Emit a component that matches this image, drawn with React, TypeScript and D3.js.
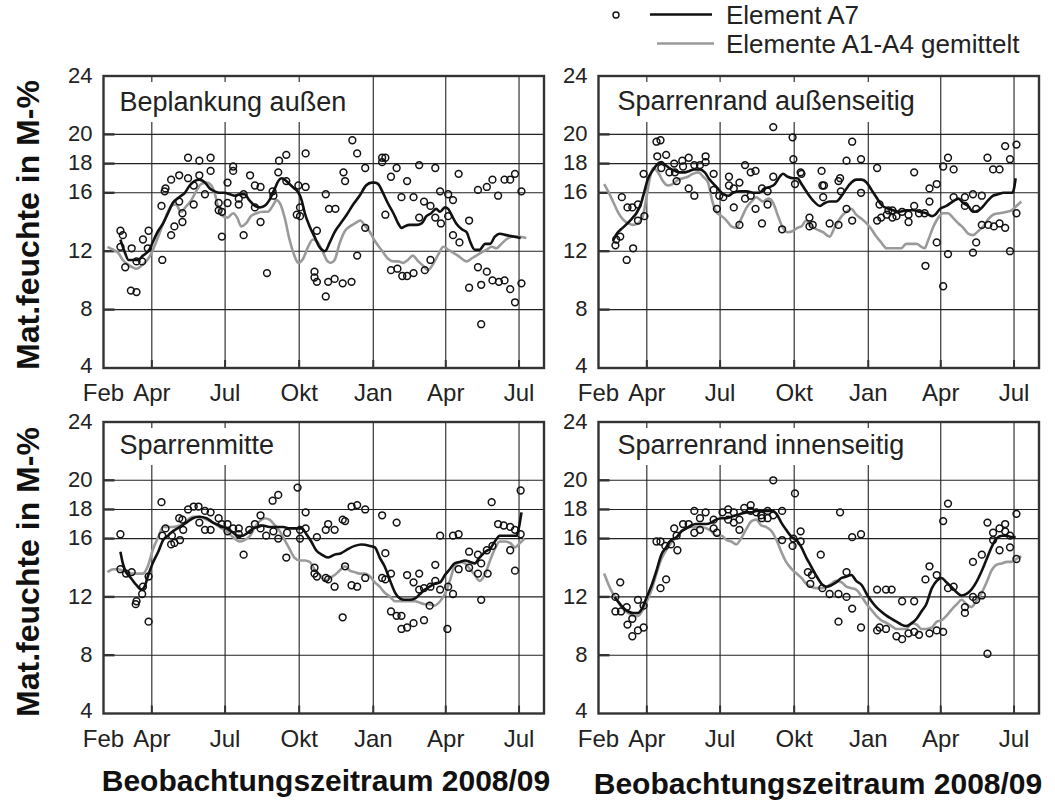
import React from "react";
import * as d3 from "d3";

type Pt = [number, number]; // [days since 2008-02-01, moisture M-%]

// ---------- Beplankung außen ----------
const beplankungPoints: Pt[] = [[21,13.4],[24,13.1],[21,12.3],[27,10.9],[35,12.2],[34,9.3],[41,9.2],[41,11.3],[48,11.3],[49,12.8],[56,13.4],[55,12.2],[72,15.1],[73,11.4],[76,16.1],[77,16.3],[84,13.1],[84,16.9],[88,13.7],[94,17.2],[94,15.4],[98,14.0],[98,14.6],[105,17.0],[105,18.4],[112,15.2],[112,16.5],[119,17.2],[119,18.2],[126,15.9],[133,18.4],[133,17.5],[143,15.3],[143,14.8],[147,14.7],[147,13.0],[154,16.7],[154,15.3],[161,17.8],[161,17.5],[168,15.6],[168,15.2],[174,13.1],[174,15.9],[182,17.2],[188,16.5],[195,16.4],[195,14.0],[188,15.0],[203,10.5],[210,16.1],[211,15.8],[217,17.4],[218,18.2],[227,18.6],[227,16.8],[242,16.5],[240,14.5],[244,14.4],[244,15.0],[251,18.7],[251,16.4],[265,13.4],[262,10.6],[262,10.2],[265,9.9],[276,15.9],[280,14.9],[288,14.9],[276,8.9],[279,9.9],[287,10.1],[297,9.8],[308,9.9],[298,17.4],[300,16.8],[309,19.6],[315,18.7],[315,11.7],[325,17.7],[325,13.6],[346,18.4],[346,18.1],[350,18.4],[350,14.5],[357,17.1],[364,17.7],[357,10.7],[365,10.8],[370,15.7],[371,10.3],[377,10.3],[385,10.5],[377,16.8],[385,15.7],[392,17.9],[392,14.3],[398,15.4],[399,10.7],[406,11.4],[406,15.1],[412,17.7],[412,14.3],[418,16.1],[419,13.9],[428,15.9],[428,14.4],[434,15.5],[434,13.1],[442,12.6],[441,17.3],[454,14.1],[454,9.5],[465,10.9],[465,16.2],[469,9.7],[469,7.0],[476,10.6],[476,16.4],[483,16.9],[483,10.0],[490,15.8],[491,9.9],[498,16.9],[498,10.0],[505,16.9],[505,9.4],[511,17.3],[511,8.5],[519,16.1],[519,9.8]];
const beplankungA7: Pt[] = [[21,12.8],[26,12.0],[31,11.4],[36,11.4],[43,11.4],[49,11.7],[57,12.1],[61,12.6],[68,13.4],[74,13.9],[80,14.6],[86,15.3],[94,15.7],[101,16.0],[107,16.5],[113,16.8],[119,16.9],[126,16.7],[132,16.3],[138,16.1],[144,16.0],[150,16.0],[157,15.9],[163,15.8],[169,15.9],[175,15.9],[181,15.5],[188,15.1],[194,15.0],[200,15.1],[206,15.5],[212,16.2],[217,16.8],[221,17.0],[225,16.9],[231,16.6],[237,16.3],[241,16.1],[246,15.5],[250,14.6],[256,13.7],[262,13.0],[268,12.3],[275,12.0],[281,12.6],[287,13.3],[293,13.8],[302,14.5],[310,15.2],[318,15.8],[326,16.5],[333,16.7],[337,16.7],[341,16.6],[347,16.0],[353,15.3],[360,14.6],[366,13.9],[370,13.6],[374,13.7],[380,13.8],[389,13.8],[395,13.9],[401,14.4],[407,14.6],[413,14.9],[418,14.7],[424,15.0],[428,14.9],[432,14.5],[438,13.9],[445,13.5],[451,13.3],[455,12.7],[461,12.1],[467,12.1],[474,12.5],[480,12.5],[486,13.0],[492,13.2],[500,13.1],[509,13.0],[518,12.9]];
const beplankungA1A4: Pt[] = [[5,12.3],[12,12.1],[18,11.9],[24,11.4],[30,11.1],[36,10.9],[41,10.8],[47,11.0],[53,11.3],[59,11.8],[63,12.3],[68,13.0],[74,13.9],[80,14.7],[84,15.1],[90,15.2],[96,14.7],[103,15.1],[109,15.5],[115,16.1],[121,16.6],[128,16.7],[134,16.5],[138,16.0],[142,15.1],[148,14.4],[154,14.3],[161,14.6],[166,14.3],[171,13.7],[177,13.9],[183,14.4],[190,14.6],[198,14.7],[204,14.7],[210,15.1],[215,15.5],[219,15.3],[225,14.3],[231,12.8],[237,11.7],[242,11.2],[248,11.5],[254,12.3],[260,12.8],[266,12.6],[272,12.0],[277,11.4],[282,11.2],[287,11.4],[293,12.5],[300,13.4],[306,13.7],[312,13.9],[319,14.1],[324,13.8],[331,13.3],[337,12.7],[345,12.1],[353,11.5],[360,11.3],[366,11.3],[372,11.2],[378,11.4],[384,11.7],[391,11.3],[397,11.0],[403,10.7],[409,11.1],[416,11.8],[422,12.3],[428,12.1],[434,11.9],[440,11.7],[447,11.4],[451,11.3],[457,11.5],[463,11.7],[469,11.9],[476,12.1],[482,12.3],[488,12.2],[494,12.5],[500,12.8],[507,13.0],[515,13.0],[525,12.9]];

// ---------- Sparrenrand außenseitig ----------
const aussenPoints: Pt[] = [[21,12.4],[22,12.8],[27,13.0],[29,15.7],[35,11.4],[36,15.0],[42,15.0],[43,12.2],[49,15.2],[49,14.1],[56,17.3],[57,14.4],[72,19.5],[77,19.6],[73,18.5],[78,17.7],[84,18.6],[88,17.4],[94,18.0],[95,17.4],[97,16.8],[105,17.8],[104,18.2],[112,18.4],[112,16.3],[119,15.8],[119,17.9],[126,17.9],[133,18.5],[133,18.1],[143,17.3],[143,16.2],[147,14.9],[150,15.8],[155,15.7],[162,17.1],[162,16.5],[168,16.3],[168,15.0],[175,16.7],[175,13.8],[182,17.9],[182,15.6],[189,17.4],[189,15.8],[195,17.5],[195,14.9],[203,16.3],[203,13.9],[210,16.1],[210,15.2],[217,20.5],[217,17.1],[228,13.5],[241,19.8],[242,18.3],[244,16.6],[251,17.4],[252,17.3],[262,14.3],[262,13.7],[266,13.8],[277,17.5],[278,16.5],[280,16.5],[279,15.7],[287,13.9],[298,13.8],[298,16.8],[300,17.0],[301,16.1],[308,18.2],[308,14.9],[315,19.5],[315,14.1],[326,18.3],[326,16.0],[346,17.7],[346,14.1],[349,15.2],[351,14.3],[358,14.5],[360,14.8],[365,14.3],[365,14.8],[370,14.4],[377,14.7],[385,14.0],[385,14.5],[392,17.4],[392,15.1],[398,14.6],[405,14.6],[406,11.0],[411,16.3],[411,15.4],[420,16.6],[420,12.6],[428,17.8],[428,9.6],[434,18.4],[434,11.8],[441,17.6],[441,15.7],[455,15.7],[455,15.1],[465,15.9],[465,11.9],[469,14.9],[469,12.6],[476,15.8],[476,13.8],[483,18.4],[484,13.8],[490,17.6],[491,13.7],[498,17.6],[498,13.9],[505,19.2],[505,13.6],[511,18.3],[511,12.0],[519,19.3],[519,14.6]];
const aussenA7: Pt[] = [[18,12.7],[24,13.3],[28,13.5],[34,13.8],[41,14.2],[47,14.6],[53,15.3],[57,16.1],[61,16.9],[67,17.5],[72,17.9],[78,18.1],[83,17.9],[88,17.7],[95,17.5],[101,17.4],[107,17.4],[113,17.5],[119,17.6],[126,17.6],[132,17.4],[138,16.9],[143,16.6],[148,16.3],[155,15.9],[161,15.8],[167,16.0],[175,16.1],[184,16.1],[192,16.0],[200,16.0],[206,16.3],[213,16.4],[219,16.6],[225,17.1],[229,17.3],[235,17.1],[242,17.0],[247,17.0],[252,16.6],[258,16.1],[266,15.5],[275,15.1],[281,15.3],[287,15.4],[295,15.4],[302,15.8],[308,16.3],[314,16.7],[320,16.9],[327,16.9],[333,16.7],[339,16.2],[345,15.7],[351,15.2],[360,14.9],[366,14.8],[374,14.7],[382,14.8],[391,14.8],[399,14.7],[407,14.6],[414,14.4],[418,14.5],[424,14.9],[432,15.1],[440,15.4],[447,15.6],[453,15.3],[459,15.1],[465,14.7],[472,14.8],[478,15.1],[484,15.5],[490,15.8],[496,15.9],[503,16.0],[509,16.0],[514,16.0],[516,16.3],[518,17.0]];
const aussenA1A4: Pt[] = [[7,16.6],[12,16.1],[18,15.4],[24,14.7],[30,14.2],[37,13.9],[43,13.8],[49,13.9],[55,14.4],[59,15.5],[63,16.8],[68,17.7],[74,17.4],[80,16.8],[86,16.5],[92,16.6],[99,16.9],[105,17.0],[111,17.1],[117,17.3],[124,17.4],[130,17.1],[136,16.7],[141,15.5],[146,14.7],[153,14.4],[159,14.1],[165,13.7],[171,13.6],[177,14.2],[184,15.0],[190,15.4],[196,15.7],[204,15.4],[211,15.6],[217,15.3],[223,14.4],[229,13.6],[235,13.3],[242,13.4],[247,13.6],[252,13.7],[258,14.1],[264,13.7],[271,13.5],[279,13.3],[287,13.0],[293,13.6],[302,14.4],[308,14.7],[314,14.9],[320,14.5],[327,14.2],[333,13.9],[339,13.5],[345,13.0],[351,12.6],[358,12.2],[364,12.2],[370,12.2],[376,12.2],[382,12.5],[389,12.5],[395,12.5],[401,12.3],[405,12.2],[409,12.7],[416,13.7],[422,14.3],[428,14.6],[434,14.6],[440,14.3],[447,13.9],[453,13.6],[459,13.2],[465,13.1],[472,13.4],[478,13.7],[484,14.2],[490,14.5],[498,14.6],[507,14.7],[513,14.8],[519,15.1],[525,15.4]];

// ---------- Sparrenmitte ----------
const mittePoints: Pt[] = [[21,16.3],[21,13.9],[28,13.6],[35,13.7],[41,11.7],[40,11.5],[48,12.2],[49,12.7],[56,13.4],[56,10.3],[72,18.5],[73,16.2],[77,16.7],[84,15.6],[85,16.2],[88,15.7],[94,17.4],[95,15.9],[98,17.3],[99,16.6],[105,18.0],[112,18.2],[118,18.2],[119,17.1],[126,17.9],[126,16.6],[133,17.8],[133,16.6],[143,17.4],[147,17.0],[154,17.0],[154,16.5],[161,16.7],[168,16.7],[168,16.3],[174,14.9],[181,16.6],[188,17.0],[195,17.6],[195,16.7],[202,16.2],[210,18.6],[211,16.5],[217,19.0],[217,16.0],[227,14.7],[228,16.4],[241,19.5],[244,16.0],[244,16.6],[251,17.8],[251,16.7],[265,16.1],[262,14.0],[262,13.6],[265,13.4],[276,13.3],[279,13.2],[279,17.0],[276,16.6],[287,16.6],[287,12.7],[297,17.3],[300,17.2],[300,14.1],[297,10.6],[308,18.2],[315,18.3],[308,12.8],[315,12.7],[325,18.0],[325,13.3],[346,17.6],[346,13.3],[350,13.2],[350,15.0],[357,13.6],[364,17.1],[357,11.0],[364,10.7],[370,10.7],[370,9.8],[377,9.9],[385,10.2],[377,13.5],[385,13.0],[392,13.6],[392,12.5],[398,12.6],[398,10.4],[405,11.4],[406,12.7],[412,14.2],[412,13.1],[418,16.2],[418,12.5],[428,12.7],[427,9.8],[434,16.2],[434,12.2],[441,16.3],[441,13.9],[454,15.1],[454,14.0],[465,14.9],[465,13.6],[469,14.3],[469,11.8],[476,15.2],[477,13.6],[482,18.5],[483,15.5],[490,17.0],[497,16.9],[505,16.8],[505,15.2],[511,16.6],[511,13.8],[518,19.3],[518,16.3]];
const mitteA7: Pt[] = [[21,15.1],[24,14.3],[28,13.7],[34,13.3],[41,12.8],[47,12.5],[51,12.7],[55,13.4],[61,14.3],[68,15.1],[74,15.9],[80,16.2],[86,16.5],[95,16.8],[103,17.1],[111,17.4],[119,17.5],[128,17.4],[136,17.1],[144,16.9],[153,16.7],[161,16.4],[167,16.2],[173,16.2],[179,16.4],[186,16.7],[192,16.8],[198,16.9],[206,16.8],[215,16.8],[223,16.8],[231,16.7],[240,16.7],[246,16.7],[252,16.3],[258,15.8],[264,15.2],[271,14.9],[279,14.7],[287,14.9],[295,15.0],[304,15.3],[312,15.5],[320,15.6],[331,15.5],[337,15.4],[343,14.7],[349,14.1],[356,13.1],[362,12.3],[368,11.9],[374,11.8],[380,11.8],[387,11.9],[393,12.2],[399,12.5],[405,12.7],[411,12.9],[418,13.0],[424,13.5],[430,13.9],[436,14.3],[443,14.4],[449,14.5],[455,14.4],[461,14.3],[467,14.7],[474,15.1],[480,15.3],[486,15.8],[492,16.2],[498,16.2],[505,16.2],[513,16.2],[516,16.8],[519,17.8]];
const mitteA1A4: Pt[] = [[5,13.7],[12,13.9],[18,13.9],[24,13.8],[30,13.7],[37,13.6],[43,13.6],[49,13.6],[55,14.1],[61,15.2],[68,16.1],[74,16.8],[80,16.8],[86,16.8],[95,16.9],[103,17.2],[111,17.5],[119,17.5],[128,17.3],[136,17.1],[144,16.8],[153,16.5],[161,16.1],[169,15.8],[175,15.9],[182,16.2],[188,16.8],[194,17.2],[200,17.4],[206,17.3],[213,16.9],[219,16.5],[225,15.9],[231,15.3],[237,14.7],[244,14.5],[250,14.5],[256,14.4],[262,13.9],[269,13.5],[275,13.1],[281,13.3],[287,13.5],[293,13.8],[300,14.1],[306,13.8],[312,13.7],[318,13.6],[324,13.6],[331,13.4],[337,13.0],[343,12.7],[349,12.3],[356,12.0],[362,11.7],[368,11.7],[374,11.7],[380,11.7],[387,11.7],[393,11.6],[399,11.5],[405,11.5],[411,11.4],[418,11.7],[424,12.2],[430,13.1],[436,14.1],[443,14.4],[449,14.3],[455,13.9],[461,13.5],[467,13.1],[474,13.6],[480,14.5],[486,15.3],[492,15.8],[498,15.8],[505,15.7],[511,15.4],[517,15.7],[523,16.0]];

// ---------- Sparrenrand innenseitig ----------
const innenPoints: Pt[] = [[21,12.0],[21,11.0],[27,13.0],[28,11.0],[35,11.3],[36,10.1],[42,10.5],[42,9.3],[49,9.7],[49,11.8],[56,9.9],[56,11.4],[72,15.8],[77,15.8],[77,12.6],[83,15.5],[84,13.2],[90,15.6],[94,16.7],[97,16.2],[98,15.2],[105,17.0],[112,17.0],[119,17.9],[119,16.4],[126,17.4],[126,16.6],[133,17.8],[143,17.3],[143,16.7],[147,16.4],[154,17.8],[161,18.0],[161,17.3],[168,17.8],[168,17.1],[175,16.6],[175,17.3],[181,18.1],[189,18.3],[189,17.9],[196,17.8],[202,17.6],[203,17.4],[210,17.9],[210,17.4],[217,20.0],[217,17.6],[228,17.9],[228,15.9],[241,15.5],[242,16.0],[244,19.1],[251,16.5],[251,15.8],[260,13.7],[263,12.9],[265,13.5],[276,14.9],[278,12.6],[287,12.2],[298,12.2],[298,10.3],[300,17.8],[308,12.0],[308,13.7],[315,11.2],[315,16.1],[326,9.9],[326,16.3],[346,12.5],[346,9.7],[349,9.9],[357,12.5],[357,9.8],[364,12.5],[370,9.3],[377,11.7],[377,9.1],[385,9.5],[392,11.7],[392,9.6],[398,9.4],[406,13.2],[411,14.1],[411,9.5],[420,13.5],[420,9.7],[428,17.2],[428,9.6],[434,12.6],[434,18.4],[441,12.7],[455,11.3],[455,10.9],[465,14.4],[465,12.0],[469,11.8],[476,14.9],[476,12.1],[483,17.1],[483,8.1],[490,16.4],[490,15.9],[498,16.7],[498,15.2],[505,17.0],[505,16.5],[511,16.2],[511,15.4],[519,17.7],[519,14.6]];
const innenA7: Pt[] = [[20,12.0],[24,11.7],[30,11.3],[37,11.0],[43,10.9],[49,10.9],[55,11.3],[60,12.0],[66,12.8],[72,13.8],[78,14.9],[84,15.4],[90,15.9],[97,16.1],[103,16.5],[109,16.7],[115,16.9],[121,17.0],[128,17.0],[134,17.0],[140,17.1],[146,17.3],[153,17.4],[159,17.4],[165,17.5],[171,17.6],[177,17.7],[184,17.8],[190,17.8],[196,17.9],[202,17.9],[208,17.9],[215,17.9],[221,17.7],[227,17.1],[233,16.6],[240,16.1],[246,15.9],[252,15.4],[258,14.7],[264,14.1],[271,13.4],[277,12.9],[283,12.7],[289,12.8],[295,13.0],[302,13.3],[308,13.4],[314,13.5],[320,13.1],[327,12.8],[333,12.2],[339,11.7],[345,11.3],[351,11.0],[358,10.7],[364,10.5],[370,10.3],[376,10.1],[382,10.0],[389,10.2],[395,10.5],[401,11.0],[407,11.5],[414,12.6],[420,13.1],[426,13.3],[432,13.0],[438,12.7],[445,12.3],[451,12.1],[457,12.2],[463,12.5],[469,13.0],[476,13.8],[482,14.6],[488,15.4],[494,16.0],[501,16.2],[507,16.2],[513,16.1],[518,16.1]];
const innenA1A4: Pt[] = [[7,13.6],[12,12.9],[18,12.2],[24,11.7],[30,11.2],[37,10.9],[43,10.7],[49,10.7],[55,11.1],[60,11.7],[66,12.5],[72,13.6],[78,14.6],[84,15.2],[90,15.7],[97,16.1],[103,16.5],[109,16.7],[115,16.8],[121,16.8],[128,16.8],[134,16.7],[140,16.5],[146,16.2],[153,16.2],[159,15.9],[165,15.8],[171,15.6],[177,16.0],[184,16.7],[190,17.2],[196,17.3],[202,16.9],[208,16.8],[215,16.5],[221,15.9],[227,15.1],[233,14.4],[240,13.9],[246,13.6],[252,13.3],[258,12.9],[264,12.7],[271,12.6],[277,12.6],[283,12.7],[289,12.9],[295,13.1],[302,13.0],[308,12.7],[314,12.6],[320,12.5],[327,12.0],[333,11.5],[339,11.1],[345,10.7],[351,10.4],[358,10.2],[364,10.0],[370,9.8],[376,9.8],[382,9.8],[389,10.2],[395,10.1],[401,9.8],[407,9.8],[414,9.9],[420,10.3],[426,10.4],[432,10.7],[438,11.1],[445,11.5],[451,11.8],[457,11.5],[463,11.3],[469,11.7],[476,12.3],[482,13.0],[488,13.8],[494,14.2],[501,14.3],[507,14.4],[513,14.4],[519,14.6],[525,14.8]];

// ---------- axes ----------
const yTickValues = [4, 8, 12, 16, 18, 20, 24];
const yGridValues = [8, 12, 16, 18, 20];
const monthTickDates = ["2008-02-01", "2008-04-01", "2008-07-01", "2008-10-01", "2009-01-01", "2009-04-01", "2009-07-01"];
const monthLabels = ["Feb", "Apr", "Jul", "Okt", "Jan", "Apr", "Jul"];
const panelTitles = ["Beplankung außen", "Sparrenrand außenseitig", "Sparrenmitte", "Sparrenrand innenseitig"];
const legendLabels = ["Element A7", "Elemente A1-A4 gemittelt"];
const yAxisTitle = "Mat.feuchte in M-%";
const xAxisTitle = "Beobachtungszeitraum 2008/09";

const FONT = "'Liberation Sans', Arial, Helvetica, sans-serif";
const parse = d3.timeParse("%Y-%m-%d");
const START = parse("2008-02-01") as Date;
const END = parse("2009-08-01") as Date;
const toDate = (d: number) => d3.timeDay.offset(START, d);
const monthDates = monthTickDates.map((s) => parse(s) as Date);

const BLACK = "#111";
const GRAY = "#9a9a9a";
const FRAME = "#333";

let measureCtx: CanvasRenderingContext2D | null = null;
function textWidth(s: string, font: string): number {
  if (!measureCtx) {
    const c = document.createElement("canvas");
    measureCtx = c.getContext("2d");
  }
  if (!measureCtx) return s.length * 13;
  measureCtx.font = font;
  return measureCtx.measureText(s).width;
}

interface PanelProps {
  x0: number; y0: number; w: number; h: number;
  title: string; pts: Pt[]; a7: Pt[]; avg: Pt[];
  titleDx: number; titleDy: number; boxH: number;
}

function Panel({ x0, y0, w, h, title, pts, a7, avg, titleDx, titleDy, boxH }: PanelProps) {
  const x = d3.scaleTime().domain([START, END]).range([x0, x0 + w]);
  const y = d3.scaleLinear().domain([4, 24]).range([y0 + h, y0]);
  const line = d3
    .line<Pt>()
    .x((d) => x(toDate(d[0])))
    .y((d) => y(d[1]))
    .curve(d3.curveMonotoneX);
  const titleFont = `27px ${FONT}`;
  const tw = textWidth(title, titleFont);
  return (
    <g>
      {yGridValues.map((v) => (
        <line key={"h" + v} x1={x0} x2={x0 + w} y1={y(v)} y2={y(v)} stroke="#222" strokeWidth={1.1} />
      ))}
      {monthDates.slice(1).map((d, i) => (
        <line key={"v" + i} x1={x(d)} x2={x(d)} y1={y0} y2={y0 + h} stroke="#222" strokeWidth={1.1} />
      ))}
      {yGridValues.map((v) => (
        <line key={"t" + v} x1={x0} x2={x0 + 11} y1={y(v)} y2={y(v)} stroke={FRAME} strokeWidth={2.4} />
      ))}
      {monthDates.slice(1).map((d, i) => (
        <line key={"bt" + i} x1={x(d)} x2={x(d)} y1={y0 + h - 8} y2={y0 + h} stroke={FRAME} strokeWidth={2} />
      ))}
      <rect x={x0 + 1.5} y={y0 + 6} width={titleDx + tw + 6} height={boxH} fill="#fff" />
      <text x={x0 + titleDx} y={y0 + titleDy} fontFamily={FONT} fontSize={27} fill="#222">
        {title}
      </text>
      <path d={line(avg) || ""} fill="none" stroke={GRAY} strokeWidth={2.6} strokeLinejoin="round" />
      <path d={line(a7) || ""} fill="none" stroke={BLACK} strokeWidth={2.6} strokeLinejoin="round" />
      {pts.map((p, i) => (
        <circle key={"c" + i} cx={x(toDate(p[0]))} cy={y(p[1])} r={3.4} fill="none" stroke="#111" strokeWidth={1.5} />
      ))}
      <rect x={x0} y={y0} width={w} height={h} fill="none" stroke={FRAME} strokeWidth={2.4} />
      {yTickValues.map((v) => (
        <text key={"yl" + v} x={x0 - 11} y={v === 4 ? y(v) - 2 : y(v)} dy="0.3em" textAnchor="end" fontFamily={FONT} fontSize={22} fill="#222">
          {v}
        </text>
      ))}
      {monthDates.map((d, i) => (
        <text key={"xl" + i} x={x(d)} y={y0 + h + 33} textAnchor="middle" fontFamily={FONT} fontSize={24} fill="#222">
          {monthLabels[i]}
        </text>
      ))}
    </g>
  );
}

export default function App() {
  const W = 1055;
  const H = 803;
  const pw = 440.5;
  const leftX = 103.5;
  const rightX = 598.5;
  const topY = 76;
  const topH = 292;
  const botY = 422;
  const botH = 291.5;
  return (
    <svg width={W} height={H} viewBox={`0 0 ${W} ${H}`} style={{ position: "absolute", left: 0, top: 0, background: "#fff" }}>
      <rect x={0} y={0} width={W} height={H} fill="#fff" />
      <Panel x0={leftX} y0={topY} w={pw} h={topH} title={panelTitles[0]} pts={beplankungPoints} a7={beplankungA7} avg={beplankungA1A4} titleDx={16} titleDy={35} boxH={40} />
      <Panel x0={rightX} y0={topY} w={pw} h={topH} title={panelTitles[1]} pts={aussenPoints} a7={aussenA7} avg={aussenA1A4} titleDx={19} titleDy={34} boxH={40} />
      <Panel x0={leftX} y0={botY} w={pw} h={botH} title={panelTitles[2]} pts={mittePoints} a7={mitteA7} avg={mitteA1A4} titleDx={16} titleDy={32} boxH={37} />
      <Panel x0={rightX} y0={botY} w={pw} h={botH} title={panelTitles[3]} pts={innenPoints} a7={innenA7} avg={innenA1A4} titleDx={19} titleDy={32} boxH={37} />

      {/* legend */}
      <circle cx={616} cy={15} r={3} fill="none" stroke="#111" strokeWidth={1.4} />
      <line x1={650} x2={712} y1={14.5} y2={14.5} stroke={BLACK} strokeWidth={2.6} />
      <text x={726} y={14.5} dy="0.36em" fontFamily={FONT} fontSize={26} fill="#222">{legendLabels[0]}</text>
      <line x1={657} x2={714} y1={43.5} y2={43.5} stroke={GRAY} strokeWidth={2.6} />
      <text x={726} y={43.5} dy="0.36em" fontFamily={FONT} fontSize={26} fill="#222">{legendLabels[1]}</text>

      {/* axis titles */}
      <text transform="translate(39,225) rotate(-90)" textAnchor="middle" fontFamily={FONT} fontWeight="bold" fontSize={32} fill="#111">{yAxisTitle}</text>
      <text transform="translate(39,572) rotate(-90)" textAnchor="middle" fontFamily={FONT} fontWeight="bold" fontSize={32} fill="#111">{yAxisTitle}</text>
      <text x={326} y={791} textAnchor="middle" fontFamily={FONT} fontWeight="bold" fontSize={30} fill="#111">{xAxisTitle}</text>
      <text x={818} y={794} textAnchor="middle" fontFamily={FONT} fontWeight="bold" fontSize={30} fill="#111">{xAxisTitle}</text>
    </svg>
  );
}
